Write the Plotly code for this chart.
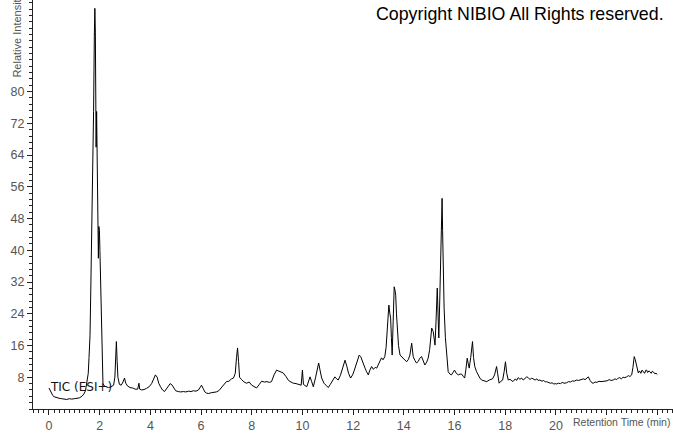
import plotly.graph_objects as go

rt = [0.0, 0.05, 0.1, 0.15, 0.2, 0.3, 0.4, 0.5, 0.6, 0.7, 0.8, 0.9, 1.0, 1.1, 1.2, 1.3, 1.38, 1.44, 1.5, 1.55,
      1.58, 1.62, 1.65, 1.67, 1.70, 1.73, 1.76, 1.79, 1.81, 1.83, 1.85, 1.86, 1.88, 1.90, 1.93, 1.95, 1.97, 1.99, 2.01, 2.04, 2.07, 2.10, 2.13, 2.18,
      2.25, 2.35, 2.45, 2.55, 2.6, 2.63, 2.66, 2.69, 2.72, 2.78, 2.85, 2.92, 2.98, 3.03, 3.1, 3.2, 3.3, 3.4, 3.5, 3.55, 3.58, 3.65, 3.75, 3.85, 3.95,
      4.05, 4.12, 4.2, 4.27, 4.33, 4.4, 4.48, 4.56, 4.62, 4.7, 4.78, 4.85, 4.92, 5.0, 5.1, 5.2, 5.3, 5.4, 5.5, 5.6, 5.7, 5.8, 5.9, 5.97,
      6.02, 6.08, 6.15, 6.22, 6.3, 6.4, 6.5, 6.6, 6.7, 6.8, 6.9, 7.0, 7.1, 7.2, 7.28, 7.35, 7.4, 7.44, 7.48, 7.52, 7.6, 7.7, 7.8, 7.9,
      8.0, 8.1, 8.19, 8.3, 8.39, 8.5, 8.6, 8.7, 8.78, 8.88, 8.98, 9.05, 9.15, 9.24, 9.35, 9.45, 9.55, 9.64, 9.75, 9.85, 9.95,
      10.0, 10.04, 10.17, 10.25, 10.3, 10.36, 10.43, 10.52, 10.6, 10.64, 10.7, 10.76, 10.85, 10.95, 11.02, 11.1, 11.2, 11.28, 11.35, 11.41,
      11.5, 11.6, 11.68, 11.75, 11.82, 11.9, 11.98, 12.05, 12.12, 12.18, 12.24, 12.3, 12.36, 12.42, 12.47, 12.53, 12.6, 12.66, 12.73, 12.8,
      12.87, 12.93, 13.0, 13.06, 13.12, 13.18, 13.25, 13.3, 13.35, 13.41, 13.45, 13.48, 13.51, 13.54, 13.58, 13.62, 13.65, 13.68, 13.71,
      13.74, 13.79, 13.85, 13.92, 13.98, 14.05, 14.11, 14.18, 14.24, 14.31, 14.37, 14.44, 14.5, 14.57, 14.63, 14.7, 14.77, 14.83, 14.9,
      14.96, 15.02, 15.07, 15.1, 15.16, 15.2, 15.23, 15.27, 15.32, 15.35, 15.38, 15.42, 15.45, 15.48, 15.51, 15.53, 15.55, 15.59, 15.64,
      15.69, 15.75, 15.82, 15.88, 15.94, 16.0, 16.07, 16.15, 16.22, 16.28, 16.35, 16.4, 16.45, 16.5, 16.54, 16.58, 16.64, 16.68, 16.71,
      16.75, 16.8, 16.87, 16.93, 17.0, 17.07, 17.17, 17.27, 17.37, 17.5, 17.58, 17.62, 17.66, 17.7, 17.76, 17.83, 17.9, 17.96, 18.01,
      18.06, 18.12, 18.2, 18.27, 18.32, 18.4, 18.45, 18.51, 18.58, 18.65, 18.71, 18.78, 18.85, 18.91, 18.98, 19.04, 19.1, 19.18, 19.25,
      19.3, 19.37, 19.45, 19.52, 19.58, 19.63, 19.7, 19.78, 19.85, 19.92, 20.0, 20.03, 20.1, 20.18, 20.25, 20.32, 20.42, 20.5, 20.58,
      20.65, 20.72, 20.82, 20.9, 21.0, 21.08, 21.15, 21.22, 21.28, 21.35, 21.42, 21.47, 21.55, 21.62, 21.7, 21.78, 21.87, 21.95, 22.02,
      22.1, 22.18, 22.26, 22.33, 22.4, 22.46, 22.52, 22.58, 22.65, 22.72, 22.79, 22.86, 22.92, 22.99, 23.04, 23.09, 23.13, 23.18, 23.22,
      23.25, 23.3, 23.35, 23.4, 23.45, 23.5, 23.55, 23.58, 23.62, 23.67, 23.71, 23.76, 23.8, 23.84, 23.9, 23.95, 24.0]

intensity = [5.3, 4.6, 3.9, 3.4, 3.1, 2.8, 2.7, 2.6, 2.5, 2.4, 2.6, 2.5, 2.6, 2.7, 2.8, 3.2, 3.8, 4.6, 7.5, 9.0,
             13, 18.6, 30, 38, 40, 55, 75, 94, 101, 95, 80, 66, 75, 60, 46, 38, 46, 45, 40, 30, 18, 9, 6.5, 5.8,
             5.6, 5.4, 5.6, 6.0, 8, 14, 17, 12, 8, 6.2, 6.0, 6.8, 7.8, 6.5, 5.8, 5.4, 5.3, 5.0, 5.0, 6.5, 5.0, 4.8, 4.9, 5.2, 5.6,
             6.4, 7.6, 8.6, 8.0, 6.5, 5.6, 4.8, 4.4, 5.0, 5.8, 6.4, 6.1, 5.3, 4.6, 4.4, 4.3, 4.4, 4.3, 4.5, 4.4, 4.6, 4.5, 4.8, 5.6,
             6.0, 5.2, 4.3, 4.0, 3.9, 4.1, 4.2, 4.3, 4.6, 5.4, 6.2, 6.9, 7.0, 7.6, 7.8, 9, 13, 15.4, 12, 8.0, 7.4, 6.8, 6.5, 6.8,
             6.0, 5.7, 5.3, 6.2, 7.0, 6.8, 6.9, 6.7, 6.9, 8.6, 9.8, 9.6, 9.3, 9.1, 8.2, 7.2, 6.8, 6.5, 6.4, 6.2, 6.0,
             9.8, 6.2, 5.6, 7.0, 8.1, 7.0, 5.6, 8.0, 11.0, 11.6, 9.6, 7.8, 6.5, 5.8, 5.4, 6.2, 7.4, 8.1, 7.6, 7.3,
             8.5, 10.6, 12.3, 10.8, 9.0, 7.8, 8.6, 9.8, 11.4, 12.6, 13.6, 13.2, 12.0, 11.0, 10.3, 9.4, 8.6, 9.8, 10.7, 10.0,
             10.5, 10.3, 11.2, 12.0, 12.9, 12.4, 13.2, 15.5, 20, 26.2, 24, 22.9, 18, 13.6, 22, 30.8, 30, 28.7, 24,
             20.4, 16, 13.6, 13.2, 12.8, 12.4, 11.9, 12.5, 13.6, 16.6, 13.2, 12.2, 11.6, 12.0, 12.8, 13.2, 12.0, 11.1, 11.8,
             12.8, 15, 19, 20.4, 19.5, 17.5, 16.1, 22, 30.5, 24, 17.9, 28, 36.3, 45, 53.1, 45, 37.1, 25.4, 18,
             13.6, 9.4, 8.8, 8.6, 9.2, 9.8, 9.0, 8.6, 8.8, 8.8, 8.2, 7.8, 10, 12.8, 11.5, 10.3, 13, 15.5, 17,
             13, 10.7, 9.4, 8.6, 7.8, 7.3, 7.0, 6.9, 7.3, 7.6, 8.6, 10.0, 10.7, 9.0, 6.5, 7.0, 7.3, 9.5, 11.9,
             9.0, 7.3, 7.5, 7.0, 7.0, 7.6, 7.2, 7.9, 7.5, 7.8, 7.3, 7.6, 8.1, 7.9, 7.4, 7.8, 7.6, 7.3, 7.6,
             7.2, 7.3, 7.0, 7.2, 6.8, 6.9, 6.7, 6.5, 6.6, 6.3, 6.4, 6.3, 6.5, 6.4, 6.7, 6.5, 6.6, 6.9, 6.8,
             7.1, 7.0, 7.3, 7.2, 7.5, 7.6, 7.4, 7.8, 8.1, 7.2, 6.6, 6.5, 6.8, 6.7, 7.0, 6.9, 7.0, 7.2, 7.1,
             7.4, 7.2, 7.3, 7.6, 7.4, 7.8, 7.9, 7.6, 8.0, 7.9, 8.1, 8.4, 8.2, 8.6, 10.5, 13.2, 12.5, 11.1, 10.0,
             9.1, 9.6, 9.0, 9.8, 9.4, 9.0, 9.8, 9.8, 9.2, 9.6, 9.4, 9.0, 9.5, 9.4, 8.9, 9.0, 8.7]

y_tick_vals = [8, 16, 24, 32, 40, 48, 56, 64, 72, 80]
x_tick_vals = [0, 2, 4, 6, 8, 10, 12, 14, 16, 18, 20, 22, 24]
x_tick_text = ["0", "2", "4", "6", "8", "10", "12", "14", "16", "18", "20", "", ""]

fig = go.Figure()
fig.add_trace(go.Scatter(x=rt, y=intensity, mode="lines",
                         line=dict(color="black", width=1), showlegend=False, hoverinfo="skip"))

tick_font = dict(family="Liberation Sans, Arial, sans-serif", size=12.5, color="#555555")

fig.update_layout(
    width=673, height=433,
    margin=dict(l=33, r=0, t=0, b=19, pad=0),
    paper_bgcolor="white", plot_bgcolor="white",
    xaxis=dict(range=[-0.63, 24.62], showgrid=False, zeroline=False,
               showline=True, linecolor="#222222", linewidth=1,
               tickmode="array", tickvals=x_tick_vals, ticktext=x_tick_text,
               ticks="outside", ticklen=5, tickcolor="#222222", tickwidth=1,
               minor=dict(dtick=0.2, tick0=0, ticks="outside", ticklen=3, tickcolor="#222222", tickwidth=1),
               tickfont=tick_font),
    yaxis=dict(range=[0, 103.1], showgrid=False, zeroline=False,
               showline=True, linecolor="#222222", linewidth=1,
               tickmode="array", tickvals=y_tick_vals,
               ticks="outside", ticklen=5, tickcolor="#222222", tickwidth=1,
               minor=dict(dtick=1.6, tick0=0, ticks="outside", ticklen=3, tickcolor="#222222", tickwidth=1),
               tickfont=tick_font),
)

fig.add_annotation(text="Relative Intensity", textangle=-90, xref="paper", yref="paper",
                   x=-0.025, y=0.913, xanchor="center", yanchor="middle", showarrow=False,
                   font=dict(family="Liberation Sans, Arial, sans-serif", size=11, color="#555555"))
fig.add_annotation(text="Retention Time (min)", xref="paper", yref="paper",
                   x=0.998, y=-0.0314, xanchor="right", yanchor="middle", showarrow=False,
                   font=dict(family="Liberation Sans, Arial, sans-serif", size=10.5, color="#555555"))
fig.add_annotation(text="Copyright NIBIO All Rights reserved.", xref="paper", yref="paper",
                   x=0.989, y=0.966, xanchor="right", yanchor="middle", showarrow=False,
                   font=dict(family="Liberation Sans, Arial, sans-serif", size=17.8, color="black"))
fig.add_annotation(text="TIC (ESI+)", xref="paper", yref="paper",
                   x=0.0234, y=0.053, xanchor="left", yanchor="middle", showarrow=False,
                   font=dict(family="DejaVu Sans, Verdana, sans-serif", size=12, color="#111111"))

fig.write_html("out.html", config={"displayModeBar": False},
               post_script="document.body.style.margin='0';document.body.style.padding='0';")
